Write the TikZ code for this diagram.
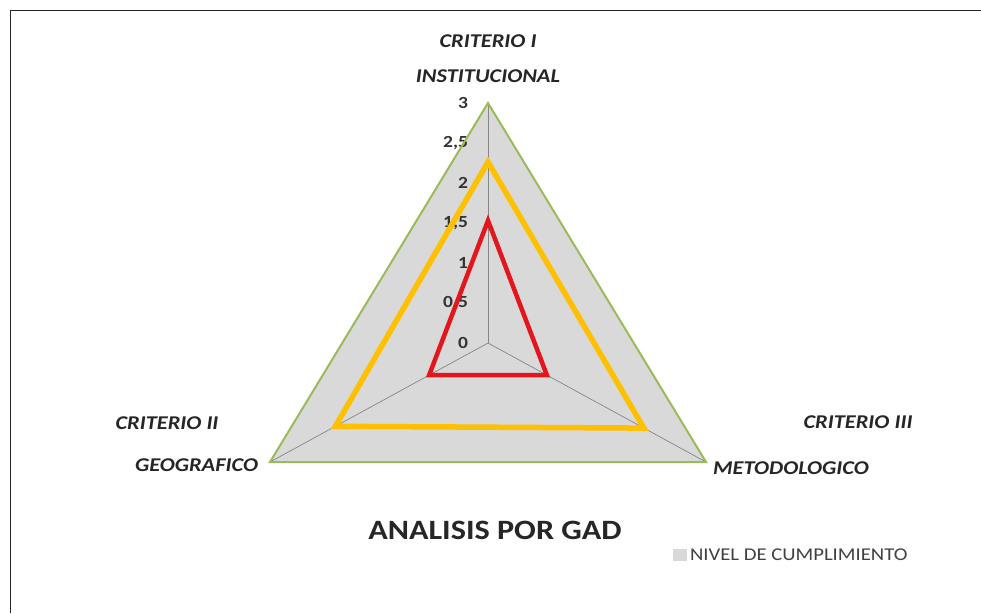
\documentclass[tikz,border=0pt]{standalone}
\usepackage{fontspec}
\setmainfont{Carlito}[FakeStretch=1.15]
\usetikzlibrary{positioning,calc}
\definecolor{gridgray}{HTML}{D9D9D9}
\definecolor{axgray}{HTML}{868686}
\definecolor{serGreen}{HTML}{9BBB59}
\definecolor{serYellow}{HTML}{FFC000}
\definecolor{serRed}{HTML}{E3161D}
\definecolor{legtext}{HTML}{404040}

\begin{document}
\begin{tikzpicture}[x=1pt,y=-1pt,every node/.style={outer sep=0pt,inner sep=0pt},
 axis/.style={draw=axgray,line width=0.7pt},
 serie/.style={line join=miter,miter limit=20},
 crit/.style={font=\fontsize{19.5}{20}\selectfont\bfseries\itshape,text=black!85},
 ticklbl/.style={anchor=east,font=\fontsize{17}{17}\selectfont\bfseries,text=black!80},
 titlelbl/.style={font=\fontsize{28}{28}\selectfont\bfseries,text=black!85}]

  \useasboundingbox (0,0) rectangle (981,613);
  \draw[line width=1.3pt,black!85] (10.5,613) -- (10.5,10.5) -- (981,10.5);

  % radar: centre and the three axis ends (value 3)
  \coordinate (c) at (488,343);
  \coordinate (v1) at (488,103);
  \coordinate (v2) at (270,462);
  \coordinate (v3) at (706,462);

  \fill[gridgray] (v1) -- (v2) -- (v3) -- cycle;
  \foreach \v in {1,2,3}
   \draw[axis] (c) -- (v\v);

  \foreach \t/\s in {0/0,1/0,2/1,3/1,4/2,5/2,6/3}{
   \ifodd\t \node[ticklbl] (t\t) at (468,343-40*\t) {\s,5};
   \else \node[ticklbl] (t\t) at (468,343-40*\t) {\s};\fi}

  \draw[serie,serYellow,line width=5.5pt] ($(c)!0.754!(v1)$) -- ($(c)!0.70!(v2)$)
   -- ($(c)!0.715!(v3)$) -- cycle;
  \draw[serie,serRed,line width=4.5pt] ($(c)!0.51!(v1)$) -- ($(c)!0.27!(v2)$)
   -- ($(c)!0.27!(v3)$) -- cycle;
  \draw[serie,serGreen,line width=2pt] (v1) -- (v2) -- (v3) -- cycle;

  \node[crit,above=20pt of v1] (inst) {INSTITUCIONAL};
  \node[crit,above=22pt of inst] (crI) {CRITERIO I};
  \node[crit,left=12pt of v2,yshift=-3pt] (geo) {GEOGRAFICO};
  \node[crit] (crII) at (167,423) {CRITERIO II};
  \node[crit,right=7pt of v3,yshift=-6pt] (met) {METODOLOGICO};
  \node[crit] (crIII) at (858,422) {CRITERIO III};

  \node[titlelbl] (title) at (495,530) {ANALISIS POR GAD};

  \node[fill=gridgray,minimum width=14pt,minimum height=12pt] (legbox) at (680,555) {};
  \node[right=3pt of legbox,font=\fontsize{18}{18}\selectfont,text=legtext] (leg)
   {NIVEL DE CUMPLIMIENTO};

\end{tikzpicture}
\end{document}
